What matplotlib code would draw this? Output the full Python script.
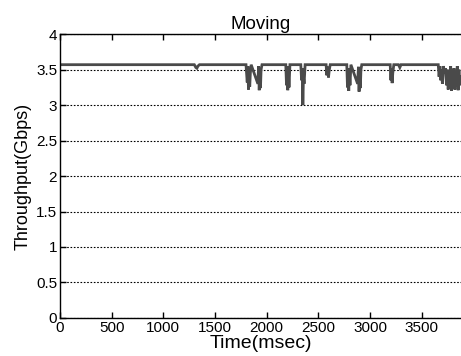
import matplotlib
matplotlib.use("Agg")
import matplotlib.pyplot as plt

# throughput trace (time in msec, Gbps)
time_ms = [0, 400, 800, 1200, 1300, 1315, 1325, 1335, 1350, 1600, 1800,
           1812, 1818, 1824, 1830, 1836, 1842, 1850,
           1915, 1922, 1928, 1934, 1940, 1946, 1955,
           2100, 2185, 2192, 2198, 2204, 2210, 2216, 2225,
           2330, 2338, 2344, 2350, 2356, 2362, 2372,
           2450, 2575, 2582, 2590, 2598, 2606, 2615,
           2700, 2775, 2782, 2788, 2794, 2800, 2806, 2815,
           2880, 2888, 2894, 2900, 2906, 2912, 2920,
           3100, 3195, 3202, 3208, 3214, 3220, 3230,
           3275, 3288, 3300, 3500, 3660,
           3668, 3676, 3684, 3692, 3700, 3710, 3720, 3730,
           3740, 3748, 3756, 3764, 3772, 3780, 3788, 3796, 3804,
           3812, 3820, 3828, 3836, 3844, 3852, 3860, 3868, 3880]
thru_gbps = [3.57, 3.57, 3.57, 3.57, 3.57, 3.53, 3.52, 3.55, 3.57, 3.57, 3.57,
             3.32, 3.55, 3.22, 3.50, 3.26, 3.45, 3.57,
             3.30, 3.55, 3.21, 3.48, 3.24, 3.50, 3.57,
             3.57, 3.57, 3.28, 3.55, 3.21, 3.47, 3.25, 3.57,
             3.57, 3.35, 3.52, 3.00, 3.40, 3.30, 3.57,
             3.57, 3.57, 3.42, 3.54, 3.39, 3.50, 3.57,
             3.57, 3.57, 3.25, 3.52, 3.20, 3.45, 3.28, 3.57,
             3.30, 3.54, 3.19, 3.47, 3.24, 3.50, 3.57,
             3.57, 3.57, 3.35, 3.52, 3.31, 3.45, 3.57,
             3.57, 3.53, 3.57, 3.57, 3.57,
             3.40, 3.55, 3.35, 3.50, 3.30, 3.55, 3.45, 3.52,
             3.28, 3.50, 3.22, 3.45, 3.25, 3.55, 3.20, 3.48, 3.30,
             3.52, 3.22, 3.45, 3.26, 3.55, 3.21, 3.50, 3.28, 3.40]

yticks = [0, 0.5, 1, 1.5, 2, 2.5, 3, 3.5, 4]
ytick_labels = ["0", "0.5", "1", "1.5", "2", "2.5", "3", "3.5", "4"]
xticks = [0, 500, 1000, 1500, 2000, 2500, 3000, 3500]

plt.rcParams['font.family'] = ['Liberation Sans', 'DejaVu Sans']

fig = plt.figure(figsize=(4.61, 3.56), dpi=100)
ax = fig.add_axes([0.130, 0.107, 0.87, 0.797])

ax.plot(time_ms, thru_gbps, color='#4a4a4a', lw=2.0, solid_joinstyle='miter')

ax.set_xlim(0, 3880)
ax.set_ylim(0, 4)
ax.set_xticks(xticks)
ax.set_yticks(yticks)
ax.set_yticklabels(ytick_labels)
ax.yaxis.grid(True, linestyle=(0, (1.5, 1.5)), color='black', lw=0.8)
ax.xaxis.grid(False)
ax.tick_params(direction='in', top=True, right=False, length=4, width=1,
               labelsize=11, pad=2)
ax.spines['right'].set_visible(False)
for s in ['left', 'bottom', 'top']:
    ax.spines[s].set_linewidth(1.0)

ax.set_title("Moving", fontsize=13.5, pad=4)
ax.set_xlabel("Time(msec)", fontsize=14, labelpad=0)
ax.set_ylabel("Throughput(Gbps)", fontsize=13, labelpad=3)

fig.savefig("out.png", dpi=100)
